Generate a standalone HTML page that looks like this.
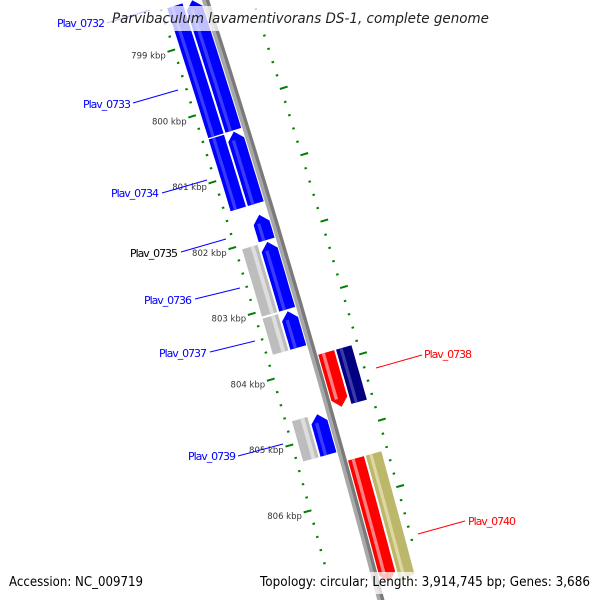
<!DOCTYPE html>
<html><head><meta charset="utf-8"><style>
html,body{margin:0;padding:0;background:#fff;width:600px;height:600px;overflow:hidden}
svg{display:block;overflow:hidden}
text{font-family:"DejaVu Sans","Liberation Sans",sans-serif}
</style></head><body>
<svg id="map" width="600" height="600" viewBox="0 0 600 600" xmlns="http://www.w3.org/2000/svg">
<defs><clipPath id="frame"><rect x="0" y="0" width="600" height="600"/></clipPath></defs>
<g clip-path="url(#frame)">
<g id="features"></g>
<g id="ticks"></g>
<g id="labels" font-size="11">
  <line x1="107" y1="23" x2="150" y2="10" stroke="#0000ff"/>
  <text x="57" y="27" fill="#0000ff" textLength="48">Plav_0732</text>
  <line x1="133" y1="103" x2="178" y2="90" stroke="#0000ff"/>
  <text x="83" y="108" fill="#0000ff" textLength="48">Plav_0733</text>
  <line x1="162" y1="193" x2="207" y2="180" stroke="#0000ff"/>
  <text x="111" y="197" fill="#0000ff" textLength="48">Plav_0734</text>
  <line x1="181" y1="252" x2="226" y2="239" stroke="#0000ff"/>
  <text x="130" y="257" fill="#000" textLength="48">Plav_0735</text>
  <line x1="195" y1="299" x2="240" y2="288" stroke="#0000ff"/>
  <text x="144" y="304" fill="#0000ff" textLength="48">Plav_0736</text>
  <line x1="210" y1="352" x2="255" y2="341" stroke="#0000ff"/>
  <text x="159" y="357" fill="#0000ff" textLength="48">Plav_0737</text>
  <line x1="238" y1="456" x2="283" y2="444" stroke="#0000ff"/>
  <text x="188" y="460" fill="#0000ff" textLength="48">Plav_0739</text>
  <line x1="376" y1="368" x2="422" y2="355" stroke="#ff0000"/>
  <text x="424" y="358" fill="#ff0000" textLength="48">Plav_0738</text>
  <line x1="418" y1="534" x2="465" y2="521" stroke="#ff0000"/>
  <text x="468" y="525" fill="#ff0000" textLength="48">Plav_0740</text>
</g>
<rect x="107" y="6" width="386" height="25" fill="#fff" fill-opacity="0.75"/>
<text x="112" y="23" font-size="14" font-style="italic" fill="#222" textLength="377" lengthAdjust="spacingAndGlyphs">Parvibaculum lavamentivorans DS-1, complete genome</text>
<rect x="255" y="572" width="340" height="22" fill="#fff" fill-opacity="0.75"/>
<text x="9" y="586" font-size="13" fill="#000" textLength="134" lengthAdjust="spacingAndGlyphs">Accession: NC_009719</text>
<text x="260" y="586" font-size="13" fill="#000" textLength="330" lengthAdjust="spacingAndGlyphs">Topology: circular; Length: 3,914,745 bp; Genes: 3,686</text>
</g>
</svg>
<script>
// gene data
const geneNames = ["Plav_0733","Plav_0734","Plav_0735","Plav_0736","Plav_0737","Plav_0738","Plav_0739","Plav_0740"];
const geneStartKbp = [798.40, 800.39, 801.65, 802.06, 803.11, 803.84, 804.67, 805.44];
const geneEndKbp   = [800.37, 801.48, 802.03, 803.08, 803.66, 804.66, 805.28, 807.30];
const geneStrand   = [-1, -1, -1, -1, -1, 1, -1, 1];
const cdsColors    = ["#0000ff","#0000ff","#0000ff","#0000ff","#0000ff","#ff0000","#0000ff","#ff0000"];
const cogColors    = ["#0000ff","#0000ff",null,"#bdbdbd","#bdbdbd","#000080","#bdbdbd","#bdb76b"];
const majorTickKbp = [799, 800, 801, 802, 803, 804, 805, 806];
const majorTickLabels = ["799 kbp","800 kbp","801 kbp","802 kbp","803 kbp","804 kbp","805 kbp","806 kbp"];

const NS = "http://www.w3.org/2000/svg";
function tOf(k){ return 36 + (k - 799) * 66.1; }
function P(t, d){
  const xc = 206.5 + 0.322*(t-3) - 5e-5*(t-3)*(t-3);
  const s = 0.322 - 1e-4*(t-3);
  const n = Math.sqrt(1+s*s);
  return [xc + d/n, t - d*s/n];
}
function band(t1,t2,d1,d2){
  const pts=[]; const N=8;
  for(let i=0;i<=N;i++){pts.push(P(t1+(t2-t1)*i/N,d1));}
  for(let i=N;i>=0;i--){pts.push(P(t1+(t2-t1)*i/N,d2));}
  return pts;
}
function arrow(t1,t2,d1,d2,strand,h){
  const pts=[]; const N=8; const dm=(d1+d2)/2;
  if(strand<0){
    const b=t1+h;
    for(let i=0;i<=N;i++) pts.push(P(b+(t2-b)*i/N,d1));
    for(let i=N;i>=0;i--) pts.push(P(b+(t2-b)*i/N,d2));
    pts.push(P(t1,dm));
  } else {
    const b=t2-h;
    for(let i=0;i<=N;i++) pts.push(P(t1+(b-t1)*i/N,d1));
    pts.push(P(t2,dm));
    for(let i=N;i>=0;i--) pts.push(P(t1+(b-t1)*i/N,d2));
  }
  return pts;
}
function poly(parent, pts, fill){
  const p=document.createElementNS(NS,"polygon");
  p.setAttribute("points", pts.map(q=>q[0].toFixed(1)+","+q[1].toFixed(1)).join(" "));
  p.setAttribute("fill", fill);
  parent.appendChild(p);
  return p;
}
function lighten(c){
  const m={"#0000ff":"#3a3aff","#ff0000":"#ff8080","#bdbdbd":"#dedede","#000080":"#3a3aa8","#bdb76b":"#dcd8a0"};
  return m[c]||c;
}
const F=document.getElementById("features");
const bb1=poly(F, band(-10,615,-3.5,0), "#a8a8a8");


const bb2=poly(F, band(-10,615,0,3.5), "#7a7a7a");



for(let i=0;i<geneNames.length;i++){
  const t1=tOf(geneStartKbp[i]), t2=tOf(geneEndKbp[i]);
  const side = geneStrand[i]<0 ? -1 : 1;
  const a=4.5, b=21;
  const d1 = side<0 ? -b : a, d2 = side<0 ? -a : b;
  const g=document.createElementNS(NS,"g");
  
  
  F.appendChild(g);
  poly(g, arrow(t1,t2,d1,d2,geneStrand[i],8), cdsColors[i]);
  const w=d2-d1;
  const hb = geneStrand[i]<0 ? [t1+8,t2] : [t1,t2-8];
  poly(g, band(hb[0],hb[1],d1+0.22*w,d1+0.42*w), lighten(cdsColors[i]));
  if(cogColors[i]){
    const c1 = side<0 ? -39 : 23, c2 = side<0 ? -23 : 39;
    const g2=document.createElementNS(NS,"g");
    
    
    F.appendChild(g2);
    poly(g2, band(t1,t2,c1,c2), cogColors[i]);
    const w2=c2-c1;
    const f = cogColors[i]==="#bdbdbd" ? [0.55,0.8] : [0.22,0.42];
    poly(g2, band(t1,t2,c1+f[0]*w2,c1+f[1]*w2), lighten(cogColors[i]));
  }
}

const T=document.getElementById("ticks");
function tick(t, dIn, dOut, w, name){
  const p1=P(t,dIn), p2=P(t,dOut);
  const l=document.createElementNS(NS,"line");
  l.setAttribute("x1",p1[0].toFixed(1)); l.setAttribute("y1",p1[1].toFixed(1));
  l.setAttribute("x2",p2[0].toFixed(1)); l.setAttribute("y2",p2[1].toFixed(1));
  l.setAttribute("stroke","#008000"); l.setAttribute("stroke-width",w);
  
  
  T.appendChild(l);
}
for(let k=798.4;k<=807.2;k+=0.2){
  const kk=Math.round(k*10)/10;
  if(Math.abs(kk-Math.round(kk))<0.01) continue;
  const t=tOf(kk);
  tick(t,-44,-46.5,2,'minor-tick-left');
  tick(t,44,46.5,2,'minor-tick-right');
}
for(let i=0;i<majorTickKbp.length;i++){
  const t=tOf(majorTickKbp[i]);
  tick(t,-44,-52,2,'major-tick-left');
  tick(t,44,52,2,'major-tick-right');
  const p=P(t,-58);
  const tx=document.createElementNS(NS,"text");
  tx.setAttribute("x",(p[0]+4).toFixed(1));
  tx.setAttribute("y",(p[1]+5).toFixed(1));
  tx.setAttribute("text-anchor","end");
  tx.setAttribute("font-size","8.5");
  tx.setAttribute("fill","#333");
  
  
  tx.textContent=majorTickLabels[i];
  T.appendChild(tx);
}
</script>
</body></html>
